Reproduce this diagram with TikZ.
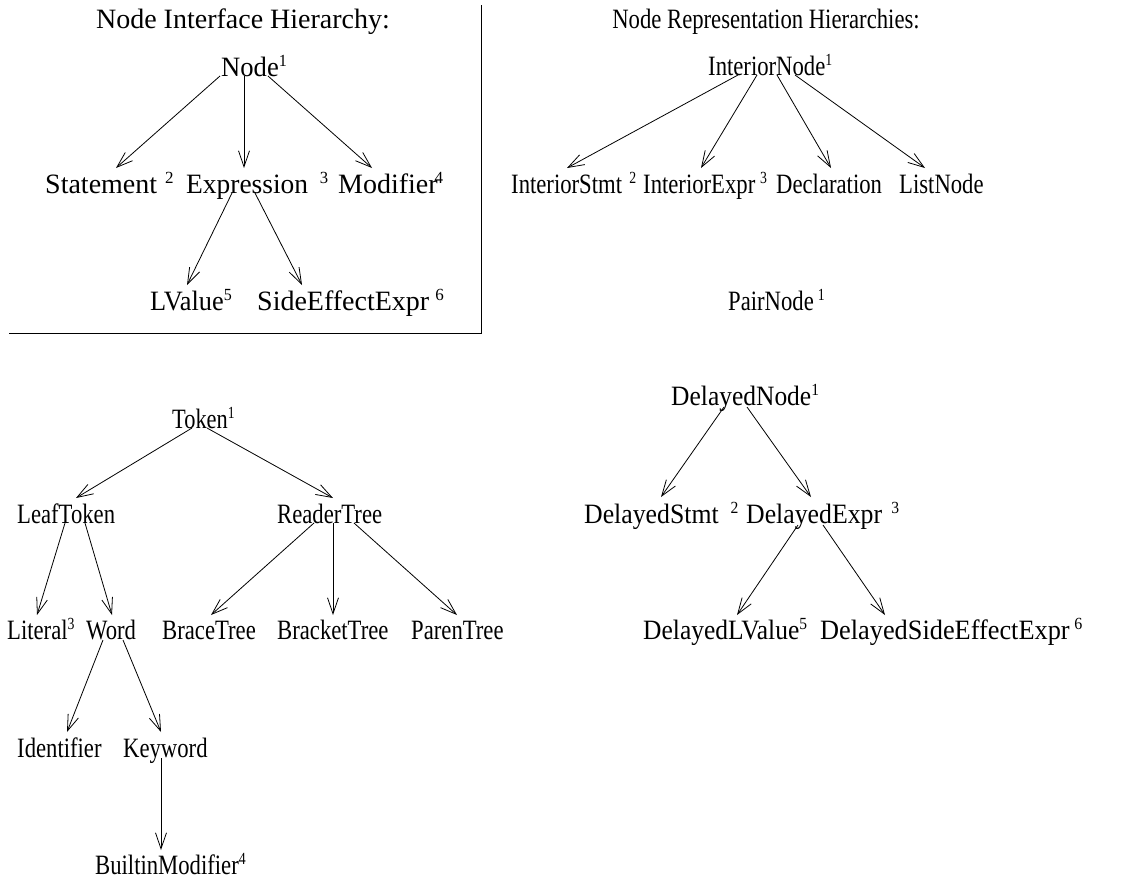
\documentclass[tikz,border=0pt]{standalone}
\usepackage{graphicx}
\usepackage{fontspec}
\setmainfont{Liberation Serif}
\usetikzlibrary{arrows.meta,calc}
\newcommand\supx[1]{\raisebox{10pt}{\fontsize{17}{17}\selectfont #1}}
\newcommand\sqz[2]{\scalebox{#1}[1]{#2}}
\begin{document}
\begin{tikzpicture}[x=1pt,y=-1pt,
  lbl/.style={anchor=base west,inner sep=0pt,font=\fontsize{28}{34}\selectfont},
  ttl/.style={anchor=base,inner sep=0pt,font=\fontsize{28}{34}\selectfont},
  arr/.style={line width=0.8pt,-{Straight Barb[length=16pt,width=11pt,line width=0.8pt]}},
  frame/.style={line width=0.9pt}]
\useasboundingbox (0,0) rectangle (1138,884);
% titles
\node[ttl] (t1) at (243,28) {Node Interface Hierarchy:};
\node[ttl] (t2) at (766,28) {\sqz{0.81}{Node Representation Hierarchies:}};
\draw[frame] (481,5) -- (481,333) -- (9,333);
% interface hierarchy
\node[lbl] (node) at (221,76) {\sqz{0.95}{Node\supx{1}}};
\node[lbl] (stmt) at (45,193) {Statement\hspace{8pt}\supx{2}};
\node[lbl] (expr) at (186,193) {\sqz{0.98}{Expression\hspace{12pt}\supx{3}}};
\node[lbl] (mod) at (338,193) {Modifier\hspace{-3pt}\supx{4}};
\node[lbl] (lval) at (150,310) {\sqz{0.94}{LValue\supx{5}}};
\node[lbl] (side) at (257,310) {SideEffectExpr\hspace{6pt}\supx{6}};
% interior
\node[lbl] (inode) at (708,75) {\sqz{0.81}{InteriorNode\supx{1}}};
\node[lbl] (istmt) at (511,193) {\sqz{0.81}{InteriorStmt\hspace{9pt}\supx{2}}};
\node[lbl] (iexpr) at (643,193) {\sqz{0.81}{InteriorExpr\hspace{6pt}\supx{3}}};
\node[lbl] (decl) at (776,193) {\sqz{0.81}{Declaration}};
\node[lbl] (list) at (899,193) {\sqz{0.81}{ListNode}};
\node[lbl] (pair) at (728,310) {\sqz{0.81}{PairNode\hspace{5pt}\supx{1}}};
% token
\node[lbl] (token) at (172,428) {\sqz{0.8}{Token\supx{1}}};
\node[lbl] (leaf) at (17,523) {\sqz{0.81}{LeafToken}};
\node[lbl] (reader) at (277,523) {\sqz{0.81}{ReaderTree}};
\node[lbl] (literal) at (7,639) {\sqz{0.81}{Literal\supx{3}}};
\node[lbl] (word) at (86,639) {\sqz{0.81}{Word}};
\node[lbl] (brace) at (162,639) {\sqz{0.81}{BraceTree}};
\node[lbl] (bracket) at (277,639) {\sqz{0.81}{BracketTree}};
\node[lbl] (paren) at (411,639) {\sqz{0.81}{ParenTree}};
\node[lbl] (ident) at (17,757) {\sqz{0.81}{Identifier}};
\node[lbl] (keyword) at (123,757) {\sqz{0.81}{Keyword}};
\node[lbl] (builtin) at (95,874) {\sqz{0.81}{BuiltinModifier\supx{4}}};
% delayed
\node[lbl] (dnode) at (671,405) {\sqz{0.91}{DelayedNode\supx{1}}};
\node[lbl] (dstmt) at (584,523) {\sqz{0.92}{DelayedStmt\hspace{13pt}\supx{2}}};
\node[lbl] (dexpr) at (746,523) {\sqz{0.92}{DelayedExpr\hspace{10pt}\supx{3}}};
\node[lbl] (dlval) at (643,639) {\sqz{0.91}{DelayedLValue\supx{5}}};
\node[lbl] (dside) at (820,639) {\sqz{0.94}{DelayedSideEffectExpr\hspace{5pt}\supx{6}}};
% arrows
\draw[arr] ($(node.base west)+(-1,0)$) -- ($(stmt.base west)+(71,-25)$);
\draw[arr] ($(node.base west)+(23,0)$) -- ($(expr.base west)+(58,-25)$);
\draw[arr] ($(node.base west)+(47,0)$) -- ($(mod.base west)+(34,-25)$);
\draw[arr] ($(expr.base west)+(46,0)$) -- ($(lval.base west)+(37,-25)$);
\draw[arr] ($(expr.base west)+(69,0)$) -- ($(side.base west)+(45,-25)$);
\draw[arr] ($(inode.base west)+(30,0)$) -- ($(istmt.base west)+(56,-25)$);
\draw[arr] ($(inode.base west)+(49,0)$) -- ($(iexpr.base west)+(58,-25)$);
\draw[arr] ($(inode.base west)+(69,0)$) -- ($(decl.base west)+(55,-25)$);
\draw[arr] ($(inode.base west)+(87,0)$) -- ($(list.base west)+(26,-25)$);
\draw[arr] ($(token.base west)+(20,0)$) -- ($(leaf.base west)+(59,-25)$);
\draw[arr] ($(token.base west)+(35,0)$) -- ($(reader.base west)+(56,-25)$);
\draw[arr] ($(leaf.base west)+(48,0)$) -- ($(literal.base west)+(30,-24)$);
\draw[arr] ($(leaf.base west)+(68,0)$) -- ($(word.base west)+(26,-24)$);
\draw[arr] ($(reader.base west)+(37,0)$) -- ($(brace.base west)+(49,-24)$);
\draw[arr] ($(reader.base west)+(56,0)$) -- ($(bracket.base west)+(56,-24)$);
\draw[arr] ($(reader.base west)+(77,0)$) -- ($(paren.base west)+(46,-24)$);
\draw[arr] ($(word.base west)+(17,1)$) -- ($(ident.base west)+(50,-25)$);
\draw[arr] ($(word.base west)+(37,1)$) -- ($(keyword.base west)+(38,-25)$);
\draw[arr] ($(keyword.base west)+(38,1)$) -- ($(builtin.base west)+(66,-24)$);
\draw[arr] ($(dnode.base west)+(53,2)$) -- ($(dstmt.base west)+(77,-26)$);
\draw[arr] ($(dnode.base west)+(76,2)$) -- ($(dexpr.base west)+(65,-26)$);
\draw[arr] ($(dexpr.base west)+(52,2)$) -- ($(dlval.base west)+(94,-24)$);
\draw[arr] ($(dexpr.base west)+(77,2)$) -- ($(dside.base west)+(65,-24)$);
\end{tikzpicture}
\end{document}
